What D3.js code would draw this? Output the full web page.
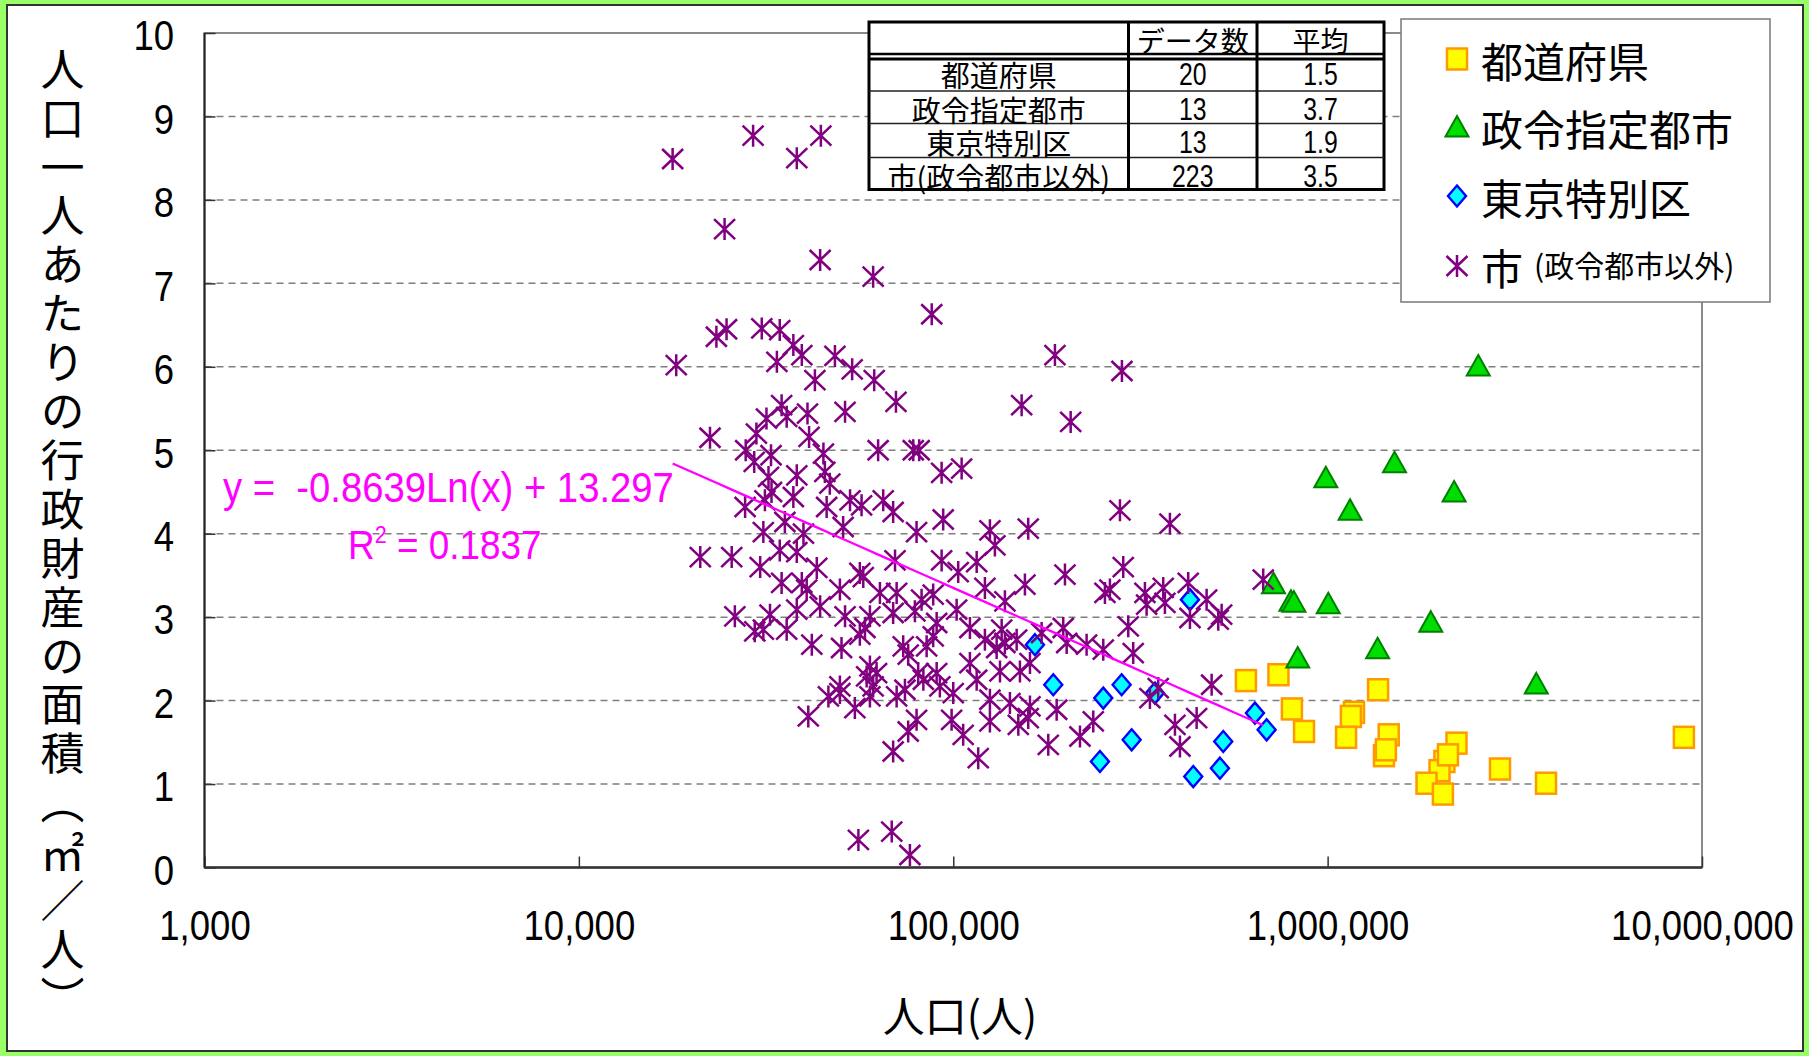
<!DOCTYPE html>
<html><head><meta charset="utf-8">
<script src="https://cdn.jsdelivr.net/npm/d3@7"></script>
<style>html,body{margin:0;padding:0;background:#99ff66;} svg{display:block}</style>
</head><body>
<svg id="chart" width="1809" height="1056"></svg>
<script>
// ---------- data ----------
const xTickValues = [1000, 10000, 100000, 1000000, 10000000];
const yTickValues = [0, 1, 2, 3, 4, 5, 6, 7, 8, 9, 10];
const seriesNames = ["都道府県", "政令指定都市", "東京特別区", "市"];
const legendNote = "(政令都市以外)";

// [population, area per person]
const prefectures = [[605000,2.24],[738900,2.31],[1364000,2.13],[802800,1.90],[864900,1.63],[1176000,1.86],[1154000,1.81],[1120000,1.56],[1456000,1.59],[1414000,1.34],[2209000,1.49],[2051000,1.27],[1990000,1.16],[1837000,1.01],[2032000,0.88],[2887000,1.18],[3831000,1.01],[8946000,1.56],[2096000,1.35],[1431000,1.41]];
const designatedCities = [[2526000,6.01],[988900,4.67],[1509000,4.85],[1148000,4.28],[2177000,4.50],[716900,3.40],[798000,3.19],[812800,3.18],[1004000,3.16],[1886000,2.94],[832000,2.51],[1360000,2.62],[3609000,2.20]];
const tokyoWards = [[251600,2.03],[281700,2.19],[345700,2.09],[428800,3.21],[299600,1.53],[639500,1.85],[687200,1.65],[526200,1.51],[515600,1.19],[437600,1.09],[246500,1.27],[165300,2.67],[185000,2.19]];
const cities = [
[17800,8.49],[29200,8.77],[38200,8.50],[44300,8.77],[24500,7.65],[44100,7.28],[61100,7.08],[87600,6.63],[186900,6.14],[152300,5.54],[205900,5.34],[282200,5.95],
[18200,6.02],[23300,6.36],[24800,6.45],[30800,6.46],[34400,6.44],[37400,6.26],[39400,6.14],[33800,6.06],[48300,6.13],[53700,5.97],[42700,5.84],[61500,5.84],[22400,5.15],[34800,5.54],[31700,5.38],[35900,5.40],[40800,5.44],[29800,5.20],[41200,5.16],[27900,5.00],[32600,4.94],[29400,4.86],[45000,4.96],[51400,5.46],[63000,5.00],[32100,4.68],[38200,4.70],[45400,4.74],[32700,4.50],[37400,4.44],[46800,4.60],[53000,4.40],[56900,4.34],[65000,4.40],[27800,4.32],[31400,4.40],[45900,4.32],[35500,4.14],[50800,4.08],[31100,4.02],[39800,4.00],
[70300,5.58],[78200,5.00],[81100,5.00],[93100,4.73],[105300,4.78],[69100,4.26],[94000,4.17],[79800,4.02],[125300,4.04],[158600,4.06],[278800,4.28],[379100,4.12],[129200,3.86],
[21100,3.72],[25600,3.72],[30500,3.60],[34400,3.80],[38200,3.78],[43200,3.59],[34800,3.41],[39400,3.41],[40600,3.33],[49800,3.33],[56300,3.53],[57500,3.48],[63700,3.29],[26100,3.01],[32400,3.03],[38200,3.09],[44100,3.13],[51400,3.01],[59900,3.01],[29500,2.83],[31100,2.85],[35900,2.85],[41900,2.67],[50300,2.63],[56300,2.79],[58100,2.87],[59900,2.41],[62400,2.33],[58700,2.29],[49800,2.17],[46400,2.05],[49800,2.09],[61100,2.17],[59900,2.05],[54600,1.91],[41000,1.81],
[69900,3.68],[93100,3.68],[103100,3.54],[115500,3.66],[155400,3.39],[198800,3.51],[254200,3.29],[262100,3.33],[70600,3.29],[82300,3.21],[88400,3.27],[121500,3.35],[137400,3.19],[69100,3.05],[79000,3.07],[102100,3.09],[90300,2.93],[110800,2.87],[121500,2.73],[134700,2.85],[147700,2.73],[172200,2.81],[196700,2.87],[200900,2.69],[227100,2.67],[251600,2.61],[73500,2.65],[75800,2.55],[84900,2.65],[88400,2.77],[130600,2.63],[137400,2.69],[110800,2.45],[160300,2.45],[80600,2.33],[83200,2.25],[90300,2.33],[92100,2.17],[115500,2.25],[133300,2.35],[150700,2.35],[70600,2.05],[74300,2.13],[100000,2.09],[125300,2.01],[141700,1.97],[160300,1.93],[188900,1.89],[79800,1.77],[99000,1.77],[125300,1.75],[149200,1.71],[158600,1.79],[236600,1.75],[75800,1.63],[106300,1.59],[179400,1.47],[218000,1.57],[69100,1.39],[116600,1.31],
[284500,3.60],[325100,3.29],[328500,3.15],[363800,3.35],[367600,3.17],[424300,3.41],[475100,3.21],[428800,2.99],[510300,2.97],[521100,3.03],[673000,3.45],[293400,2.89],[302500,2.57],[352800,2.15],[335200,2.03],[490000,2.19],[391000,1.71],[446800,1.79],[403200,1.45],
[55800,0.33],[68500,0.43],[76600,0.15]
];
const trendCoef = { a: -0.8639, b: 13.297 };
const trendLabel = "y =  -0.8639Ln(x) + 13.297";
const r2Value = "0.1837";

const tableHeader = ["", "データ数", "平均"];
const tableLabels = ["都道府県", "政令指定都市", "東京特別区", "市(政令都市以外)"];
const tableCounts = ["20", "13", "13", "223"];
const tableMeans = ["1.5", "3.7", "1.9", "3.5"];

const xTitle = "人口(人)";
const yTitle = "人口一人あたりの行政財産の面積（㎡／人）";

// ---------- drawing ----------
const W = 1809, H = 1056;
const NUM_FONT = "'Liberation Sans', Arial, sans-serif";
const JP_FONT = "'Noto Sans CJK JP', 'Noto Sans CJK SC', sans-serif";
const svg = d3.select("#chart");

svg.append("rect").attr("width", W).attr("height", H).attr("fill", "#99ff66");
svg.append("rect").attr("x", 7).attr("y", 5).attr("width", 1796).attr("height", 1046)
  .attr("fill", "#fff").attr("stroke", "#333").attr("stroke-width", 2);

const P = { l: 204.5, r: 1702, t: 33, b: 867.5 };
const x = d3.scaleLog().domain([1000, 10000000]).range([P.l, P.r]);
const y = d3.scaleLinear().domain([0, 10]).range([P.b, P.t]);

// gridlines
svg.append("g").selectAll("line").data(yTickValues.filter(v => v > 0 && v < 10)).join("line")
  .attr("x1", P.l).attr("x2", P.r).attr("y1", d => y(d)).attr("y2", d => y(d))
  .attr("stroke", "#7f7f7f").attr("stroke-width", 1.5).attr("stroke-dasharray", "7,5");

// plot border
svg.append("rect").attr("x", P.l).attr("y", P.t).attr("width", P.r - P.l).attr("height", P.b - P.t)
  .attr("fill", "none").attr("stroke", "#8a8a8a").attr("stroke-width", 2);

// axes
const yAxis = d3.axisLeft(y).tickValues(yTickValues).tickFormat(d3.format("d"))
  .tickSizeInner(-11).tickSizeOuter(0).tickPadding(35);
const gy = svg.append("g").attr("transform", `translate(${P.l},0)`).call(yAxis);
gy.select(".domain").remove();
gy.selectAll(".tick line").attr("stroke", "#333").attr("stroke-width", 1.5);
gy.selectAll(".tick text").attr("font-size", 42).attr("font-family", NUM_FONT).attr("fill", "#000")
  .attr("dy", "0.4em").attr("transform", "scale(0.87,1)");

const xAxis = d3.axisBottom(x).tickValues(xTickValues).tickFormat(d3.format(","))
  .tickSizeInner(-11).tickSizeOuter(0).tickPadding(42.5);
const gx = svg.append("g").attr("transform", `translate(0,${P.b})`).call(xAxis);
gx.select(".domain").remove();
gx.selectAll(".tick line").attr("stroke", "#333").attr("stroke-width", 1.5);
gx.selectAll(".tick text").attr("font-size", 42).attr("font-family", NUM_FONT).attr("fill", "#000")
  .attr("transform", "scale(0.87,1)");

svg.append("line").attr("x1", P.l).attr("x2", P.l).attr("y1", P.t).attr("y2", P.b)
  .attr("stroke", "#222").attr("stroke-width", 2);
svg.append("line").attr("x1", P.l).attr("x2", P.r).attr("y1", P.b).attr("y2", P.b)
  .attr("stroke", "#333").attr("stroke-width", 2.5);

// markers
const markerDefs = {
  square: g => g.append("rect").attr("x", -10).attr("y", -10.5).attr("width", 20).attr("height", 21)
    .attr("fill", "#ffff00").attr("stroke", "#ff9900").attr("stroke-width", 2.5),
  triangle: g => g.append("path").attr("d", "M0,-11L11.5,9.5L-11.5,9.5Z")
    .attr("fill", "#00dd00").attr("stroke", "#008000").attr("stroke-width", 2),
  diamond: g => g.append("path").attr("d", "M0,-10.5L9,0L0,10.5L-9,0Z")
    .attr("fill", "#00ffff").attr("stroke", "#0000ff").attr("stroke-width", 2.4),
  star: g => g.append("path").attr("d", "M0,-11V11M-10.5,-10L10.5,10M-10.5,10L10.5,-10")
    .attr("fill", "none").attr("stroke", "#800080").attr("stroke-width", 2.5)
};
const seriesList = [
  { data: prefectures, type: "square" },
  { data: designatedCities, type: "triangle" },
  { data: tokyoWards, type: "diamond" },
  { data: cities, type: "star" }
];
seriesList.forEach(s => {
  svg.append("g").selectAll("g").data(s.data).join("g")
    .attr("transform", d => `translate(${x(d[0])},${y(d[1])})`)
    .each(function () { markerDefs[s.type](d3.select(this)); });
});

// trendline (logarithmic fit over the city series)
const xmin = d3.min(cities, d => d[0]), xmax = d3.max(cities, d => d[0]);
const trendXs = d3.range(0, 41).map(i => xmin * Math.pow(xmax / xmin, i / 40));
svg.append("path").datum(trendXs)
  .attr("d", d3.line().x(v => x(v)).y(v => y(trendCoef.a * Math.log(v) + trendCoef.b)))
  .attr("fill", "none").attr("stroke", "#ff00ff").attr("stroke-width", 2.3);

// equation text
svg.append("text").attr("transform", "translate(223,502) scale(0.89,1)")
  .attr("font-family", NUM_FONT).attr("font-size", 43).attr("fill", "#ff00ff")
  .attr("xml:space", "preserve").style("white-space", "pre").text(trendLabel);
const r2 = svg.append("text").attr("transform", "translate(348,559) scale(0.9,1)")
  .attr("font-family", NUM_FONT).attr("font-size", 41).attr("fill", "#ff00ff");
r2.append("tspan").text("R");
r2.append("tspan").attr("font-size", 24).attr("dy", -16).text("2");
r2.append("tspan").attr("dy", 16).text(" = " + r2Value);

// table
const T = { cols: [869, 1128.5, 1257, 1384], top: 22, bottom: 189.5 };
const rowCenters = [40, 74, 108.5, 142, 176];
const tg = svg.append("g");
tg.append("rect").attr("x", T.cols[0]).attr("y", T.top).attr("width", T.cols[3] - T.cols[0]).attr("height", T.bottom - T.top)
  .attr("fill", "#fff").attr("stroke", "#000").attr("stroke-width", 3);
[91, 123.5, 157.5].forEach(yy => tg.append("line").attr("x1", T.cols[0]).attr("x2", T.cols[3]).attr("y1", yy).attr("y2", yy)
  .attr("stroke", "#222").attr("stroke-width", 1.6));
tg.append("line").attr("x1", T.cols[0]).attr("x2", T.cols[3]).attr("y1", 54).attr("y2", 54).attr("stroke", "#000").attr("stroke-width", 2.6);
tg.append("line").attr("x1", T.cols[0]).attr("x2", T.cols[3]).attr("y1", 59).attr("y2", 59).attr("stroke", "#000").attr("stroke-width", 3.2);
[T.cols[1], T.cols[2]].forEach(xx => tg.append("line").attr("x1", xx).attr("x2", xx).attr("y1", T.top).attr("y2", T.bottom)
  .attr("stroke", "#000").attr("stroke-width", 3));
const colC = [(T.cols[0] + T.cols[1]) / 2, (T.cols[1] + T.cols[2]) / 2, (T.cols[2] + T.cols[3]) / 2];
tableHeader.forEach((h, i) => {
  if (!h) return;
  tg.append("text").attr("x", colC[i]).attr("y", rowCenters[0]).attr("text-anchor", "middle")
    .attr("dominant-baseline", "central").attr("font-family", JP_FONT).attr("font-size", 28).text(h);
});
tableLabels.forEach((lab, i) => {
  tg.append("text").attr("x", colC[0]).attr("y", rowCenters[i + 1]).attr("text-anchor", "middle")
    .attr("dominant-baseline", "central").attr("font-family", JP_FONT).attr("font-size", 29).text(lab);
  [tableCounts[i], tableMeans[i]].forEach((v, j) => {
    tg.append("text").attr("transform", `translate(${colC[j + 1]},${rowCenters[i + 1] + 11}) scale(0.8,1)`)
      .attr("text-anchor", "middle").attr("font-family", NUM_FONT).attr("font-size", 31).text(v);
  });
});

// legend
const lg = svg.append("g");
lg.append("rect").attr("x", 1401).attr("y", 19).attr("width", 369).attr("height", 283)
  .attr("fill", "#fff").attr("stroke", "#808080").attr("stroke-width", 1.6);
const legendY = [59, 127, 196, 266];
seriesList.forEach((s, i) => {
  const g = lg.append("g").attr("transform", `translate(1457,${legendY[i]})`);
  markerDefs[s.type](g);
  lg.append("text").attr("x", 1481).attr("y", legendY[i]).attr("dominant-baseline", "central")
    .attr("font-family", JP_FONT).attr("font-size", 42).text(seriesNames[i]);
});
lg.append("text").attr("x", 1534).attr("y", legendY[3] - 2).attr("dominant-baseline", "central")
  .attr("font-family", JP_FONT).attr("font-size", 30).text(legendNote);

// axis titles
svg.append("text").attr("x", 960).attr("y", 1013).attr("text-anchor", "middle").attr("dominant-baseline", "central")
  .attr("font-family", JP_FONT).attr("font-size", 42).text(xTitle);
svg.append("text").attr("x", 62.5).attr("y", 47)
  .style("writing-mode", "vertical-rl").style("text-orientation", "mixed")
  .attr("letter-spacing", 4.9)
  .attr("font-family", JP_FONT).attr("font-size", 44).text(yTitle);
</script>
</body></html>
